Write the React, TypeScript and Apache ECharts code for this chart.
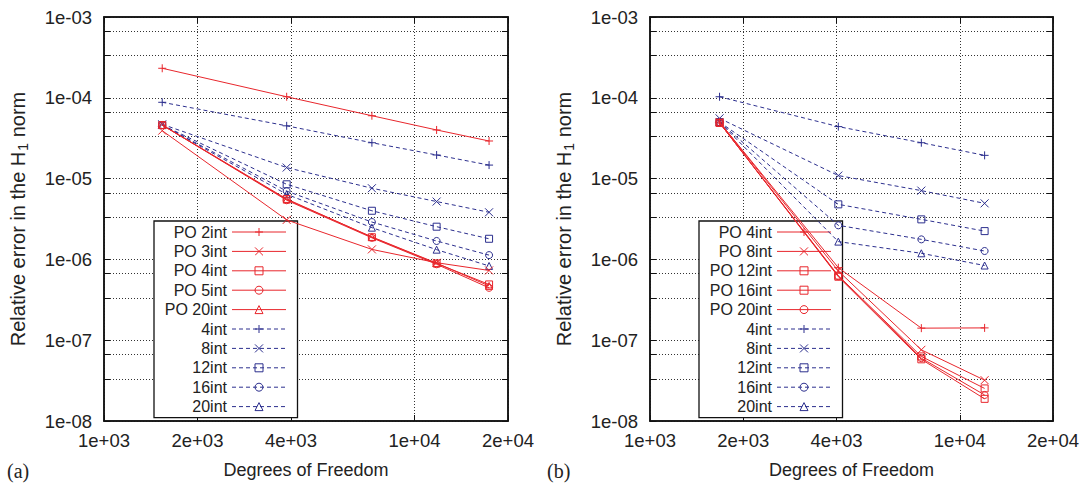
import React, { useEffect, useRef } from "react";
import * as echarts from "echarts";

// ---------- axis ticks ----------
const xTickValues = [1000, 2000, 4000, 10000, 20000];
const xTickLabels = ["1e+03", "2e+03", "4e+03", "1e+04", "2e+04"];
const yTickValues = [1e-8, 1e-7, 1e-6, 1e-5, 1e-4, 1e-3];
const yTickLabels = ["1e-08", "1e-07", "1e-06", "1e-05", "1e-04", "1e-03"];
const yGridValues = [
  1e-8, 3.33e-8, 6.67e-8, 1e-7, 3.33e-7, 6.67e-7, 1e-6, 3.33e-6, 6.67e-6,
  1e-5, 3.33e-5, 6.67e-5, 1e-4, 3.33e-4, 6.67e-4, 1e-3,
];

// ---------- panel (a) ----------
const dofA = [1540, 3875, 7290, 11780, 17380];
const a_PO2 = [2.32e-4, 1.03e-4, 6.0e-5, 4.0e-5, 2.92e-5];
const a_PO3 = [3.92e-5, 3.08e-6, 1.33e-6, 9.1e-7, 7.3e-7];
const a_PO4 = [4.6e-5, 5.6e-6, 1.88e-6, 8.9e-7, 4.9e-7];
const a_PO5 = [4.6e-5, 5.4e-6, 1.85e-6, 8.7e-7, 4.45e-7];
const a_PO20 = [4.6e-5, 5.5e-6, 1.9e-6, 9.0e-7, 4.7e-7];
const a_4 = [8.8e-5, 4.5e-5, 2.78e-5, 1.96e-5, 1.47e-5];
const a_8 = [4.7e-5, 1.37e-5, 7.6e-6, 5.2e-6, 3.83e-6];
const a_12 = [4.6e-5, 8.5e-6, 4.0e-6, 2.54e-6, 1.8e-6];
const a_16 = [4.6e-5, 7.0e-6, 2.9e-6, 1.69e-6, 1.13e-6];
const a_20 = [4.6e-5, 6.4e-6, 2.47e-6, 1.32e-6, 8.3e-7];

// ---------- panel (b) ----------
const dofB = [1677, 4055, 7516, 12030];
const b_PO4 = [5.0e-5, 7.9e-7, 1.41e-7, 1.42e-7];
const b_PO8 = [5.0e-5, 7.2e-7, 7.6e-8, 3.2e-8];
const b_PO12 = [4.9e-5, 6.3e-7, 6.3e-8, 2.53e-8];
const b_PO16 = [4.9e-5, 6.1e-7, 5.8e-8, 1.88e-8];
const b_PO20 = [4.9e-5, 6.2e-7, 6.0e-8, 2.1e-8];
const b_4 = [1.03e-4, 4.4e-5, 2.78e-5, 1.94e-5];
const b_8 = [5.57e-5, 1.09e-5, 7.1e-6, 4.94e-6];
const b_12 = [5.0e-5, 4.8e-6, 3.13e-6, 2.24e-6];
const b_16 = [5.0e-5, 2.64e-6, 1.77e-6, 1.27e-6];
const b_20 = [5.0e-5, 1.66e-6, 1.19e-6, 8.4e-7];

const RED = "#e8262c";
const BLUE = "#2c2f8e";
const FONT = "'Liberation Sans', Arial, Helvetica, sans-serif";
const PLUS = "path://M5,0L5,10M0,5L10,5";
const CROSS = "path://M0,0L10,10M10,0L0,10";

function labelFor(values: number[], labels: string[]) {
  return (v: number) => {
    for (let i = 0; i < values.length; i++) {
      if (Math.abs(Math.log10(v) - Math.log10(values[i])) < 1e-4) return labels[i];
    }
    return "";
  };
}

function mk(name: string, xs: number[], ys: number[], color: string, dashed: boolean, symbol: string, idx: number) {
  return {
    type: "line",
    name,
    xAxisIndex: idx,
    yAxisIndex: idx,
    data: xs.map((x, i) => [x, ys[i]]),
    symbol,
    symbolSize: symbol.startsWith("path") ? 8 : 7,
    showSymbol: true,
    lineStyle: { color, width: 1, type: dashed ? [4, 3] : "solid" },
    itemStyle: { color: "rgba(0,0,0,0)", borderColor: color, borderWidth: 1 },
    emphasis: { disabled: true },
    z: dashed ? 5 : 6,
  };
}

function xAxisCfg(gridIndex: number, main: boolean) {
  return {
    type: "log",
    logBase: 10,
    gridIndex,
    min: 1000,
    max: 20000,
    position: main ? "bottom" : "top",
    name: main ? "Degrees of Freedom" : "",
    nameLocation: "middle",
    nameGap: 40,
    nameTextStyle: { fontFamily: FONT, fontSize: 18, color: "#222" },
    axisLine: { show: true, onZero: false, lineStyle: { color: "#111", width: 1.5 } },
    axisTick: { show: true, inside: true, length: 6, customValues: xTickValues, lineStyle: { color: "#111" } },
    axisLabel: {
      show: main,
      customValues: xTickValues,
      formatter: labelFor(xTickValues, xTickLabels),
      margin: 10,
      fontFamily: FONT,
      fontSize: 18.5,
      color: "#222",
    },
    splitLine: { show: main, lineStyle: { color: "#333", width: 1, type: [1, 2] } },
  };
}

function yAxisCfg(gridIndex: number, main: boolean) {
  return {
    type: "log",
    logBase: 10,
    gridIndex,
    min: 1e-8,
    max: 1e-3,
    position: main ? "left" : "right",
    name: main ? "Relative error in the H{s|1} norm" : "",
    nameLocation: "middle",
    nameGap: 74,
    nameTextStyle: {
      fontFamily: FONT,
      fontSize: 20,
      color: "#222",
      rich: { s: { fontFamily: FONT, fontSize: 14, color: "#222", padding: [10, 0, 0, 1] } },
    },
    axisLine: { show: true, onZero: false, lineStyle: { color: "#111", width: 1.5 } },
    axisTick: { show: true, inside: true, length: 6, customValues: yGridValues, lineStyle: { color: "#111" } },
    axisLabel: {
      show: main,
      customValues: yTickValues,
      formatter: labelFor(yTickValues, yTickLabels),
      margin: 12,
      fontFamily: FONT,
      fontSize: 18.5,
      color: "#222",
    },
    splitLine: { show: main, lineStyle: { color: "#333", width: 1, type: [1, 2] } },
  };
}

function legendCfg(left: number, names: string[]) {
  return {
    left,
    top: 221,
    z: 3,
    orient: "vertical",
    align: "right",
    itemWidth: 54,
    itemHeight: 10,
    itemGap: 1.4,
    padding: [2, 11, 2, 5],
    borderColor: "#111",
    borderWidth: 1.3,
    backgroundColor: "#fff",
    selectedMode: false,
    data: names,
    formatter: (n: string) => n.slice(2),
    lineStyle: { width: 1 },
    itemStyle: { borderWidth: 1 },
    textStyle: { fontFamily: FONT, fontSize: 16, color: "#222", width: 68, align: "right", lineHeight: 18 },
  };
}

export default function App() {
  const ref = useRef<HTMLDivElement>(null);
  useEffect(() => {
    if (!ref.current) return;
    const chart = echarts.init(ref.current, null, { renderer: "svg" });
    const seriesA = [
      mk("a:PO 2int", dofA, a_PO2, RED, false, PLUS, 0),
      mk("a:PO 3int", dofA, a_PO3, RED, false, CROSS, 0),
      mk("a:PO 4int", dofA, a_PO4, RED, false, "rect", 0),
      mk("a:PO 5int", dofA, a_PO5, RED, false, "circle", 0),
      mk("a:PO 20int", dofA, a_PO20, RED, false, "triangle", 0),
      mk("a:4int", dofA, a_4, BLUE, true, PLUS, 0),
      mk("a:8int", dofA, a_8, BLUE, true, CROSS, 0),
      mk("a:12int", dofA, a_12, BLUE, true, "rect", 0),
      mk("a:16int", dofA, a_16, BLUE, true, "circle", 0),
      mk("a:20int", dofA, a_20, BLUE, true, "triangle", 0),
    ];
    const seriesB = [
      mk("b:PO 4int", dofB, b_PO4, RED, false, PLUS, 1),
      mk("b:PO 8int", dofB, b_PO8, RED, false, CROSS, 1),
      mk("b:PO 12int", dofB, b_PO12, RED, false, "rect", 1),
      mk("b:PO 16int", dofB, b_PO16, RED, false, "rect", 1),
      mk("b:PO 20int", dofB, b_PO20, RED, false, "circle", 1),
      mk("b:4int", dofB, b_4, BLUE, true, PLUS, 1),
      mk("b:8int", dofB, b_8, BLUE, true, CROSS, 1),
      mk("b:12int", dofB, b_12, BLUE, true, "rect", 1),
      mk("b:16int", dofB, b_16, BLUE, true, "circle", 1),
      mk("b:20int", dofB, b_20, BLUE, true, "triangle", 1),
    ];
    chart.setOption({
      animation: false,
      backgroundColor: "#fff",
      grid: [
        { left: 104, top: 17, width: 404, height: 404, show: true, borderColor: "#111", borderWidth: 1.5, backgroundColor: "transparent" },
        { left: 650, top: 17, width: 403, height: 404, show: true, borderColor: "#111", borderWidth: 1.5, backgroundColor: "transparent" },
      ],
      xAxis: [xAxisCfg(0, true), xAxisCfg(1, true), xAxisCfg(0, false), xAxisCfg(1, false)],
      yAxis: [yAxisCfg(0, true), yAxisCfg(1, true), yAxisCfg(0, false), yAxisCfg(1, false)],
      legend: [
        legendCfg(154, seriesA.map((s) => s.name)),
        legendCfg(699, seriesB.map((s) => s.name)),
      ],
      graphic: [
        { type: "text", left: 7, top: 461, style: { text: "(a)", font: "20px 'Liberation Serif', 'Times New Roman', serif", fill: "#222" } },
        { type: "text", left: 547, top: 461, style: { text: "(b)", font: "20px 'Liberation Serif', 'Times New Roman', serif", fill: "#222" } },
      ],
      series: [...seriesA, ...seriesB],
    });
    return () => chart.dispose();
  }, []);
  return <div ref={ref} style={{ position: "fixed", left: 0, top: 0, width: 1084, height: 486 }} />;
}
